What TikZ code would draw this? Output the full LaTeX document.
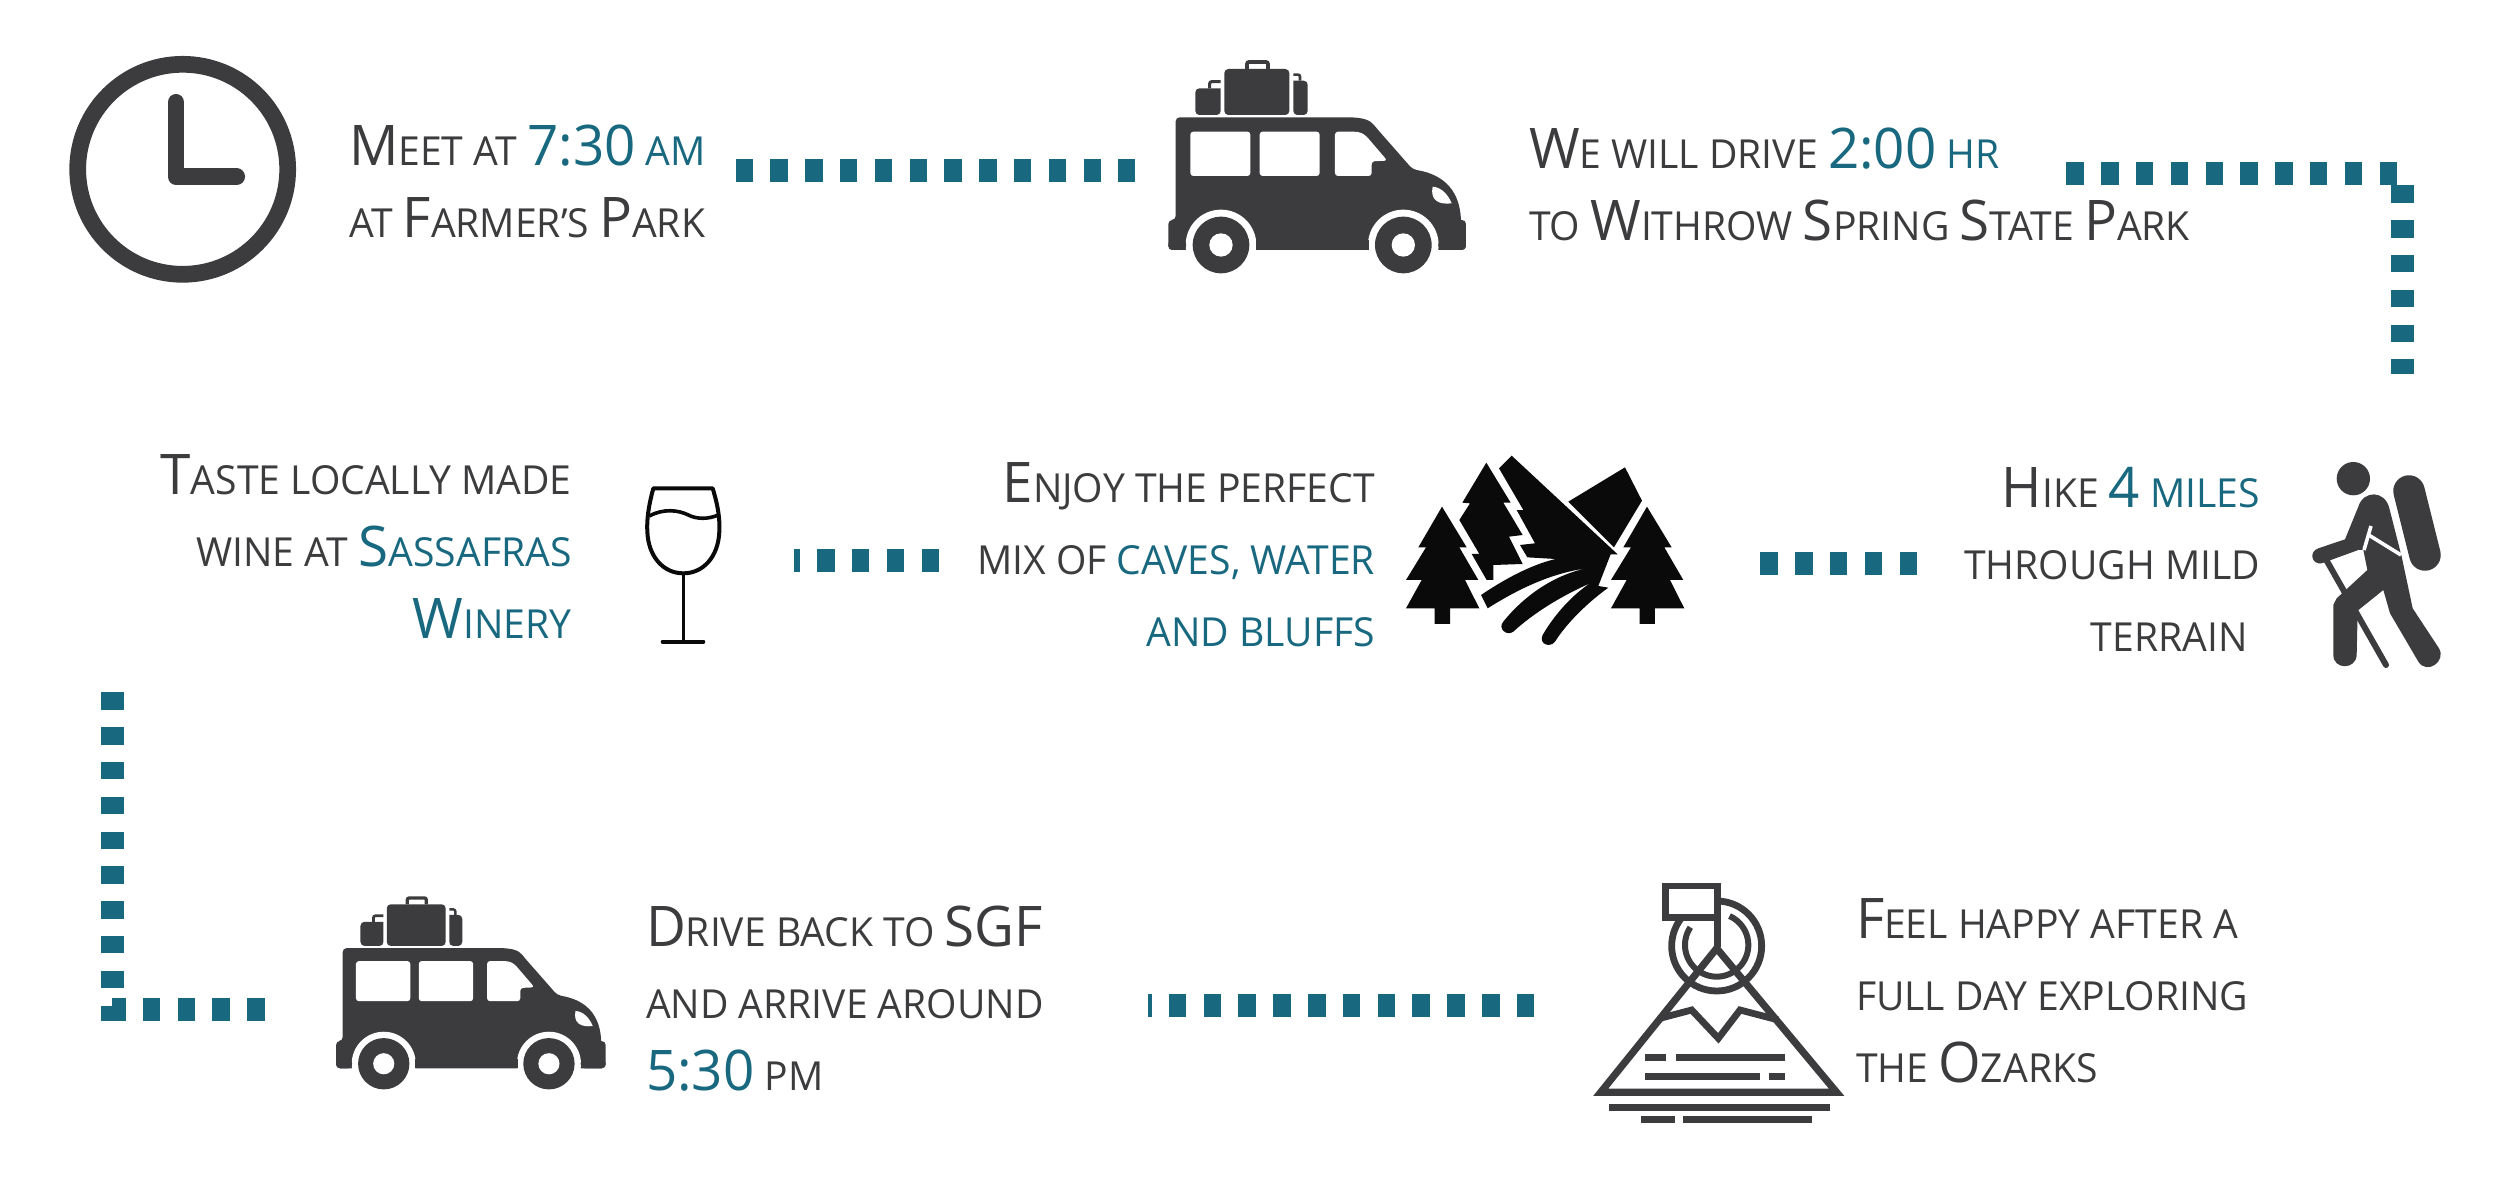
\documentclass[tikz,border=0pt]{standalone}
\usepackage{fontspec}
\setmainfont[FakeStretch=0.977]{Open Sans}
\definecolor{inkx}{HTML}{3C3C3E}
\definecolor{tealx}{HTML}{186880}
\definecolor{blackx}{HTML}{0A0A0A}
\newcommand\bigc[1]{{\fontsize{56}{72}\selectfont #1}}
\newcommand\smc[1]{\MakeUppercase{#1}}
\newcommand\tc[1]{\textcolor{tealx}{#1}}
\tikzset{
  label/.style={inner sep=0pt,outer sep=0pt,text=inkx,font=\fontsize{40}{72}\selectfont},
  lefttext/.style={label,align=left,anchor=base west},
  righttext/.style={label,align=right,anchor=base east},
  hdots/.style={draw=tealx,line width=23pt,dash pattern=on 17.5pt off 17.3pt},
  vdots/.style={hdots},
  ink/.style={fill=inkx,draw=none},
  inkline/.style={draw=inkx,line cap=butt,miter limit=10},
}
% van icon: x, y, scale (drawn in 3x zoom units)
\newcommand\vanicon[3]{%
\begin{scope}[shift={(#1,#2)},scale=#3]
 \fill[inkx,rounded corners=4pt] (137,540) -- (137,232) -- (640,232) .. controls (700,232) and (720,240) .. (740,265) -- (848,388) [sharp corners] .. controls (950,405) and (990,460) .. (993,540) [rounded corners=4pt] -- (1008,540) -- (1008,630) -- (115,630) -- (115,540) -- cycle;
 \fill[white] (273,615) circle[radius=106];
 \fill[white] (820,615) circle[radius=106];
 \fill[white] (115,632) rectangle (1010,705);
 \fill[inkx,rounded corners=4pt] (115,600) -- (115,630) -- (168,630) -- (168,600) -- cycle;
 \fill[inkx] (378,600) rectangle (716,630);
 \fill[inkx,rounded corners=4pt] (925,600) -- (925,630) -- (1008,630) -- (1008,600) -- cycle;
 \foreach \cx in {273,820}{
  \fill[inkx] (\cx,615) circle[radius=85];
  \fill[white] (\cx,615) circle[radius=35];
 }
 \fill[white,rounded corners=3pt] (181,275) rectangle (361,408);
 \fill[white,rounded corners=3pt] (389,275) rectangle (569,408);
 \fill[white,rounded corners=3pt] (615,275) -- (615,408) -- (725,408) -- (725,364) -- (772,362) [sharp corners] -- (712,292) .. controls (700,280) and (690,275) .. (670,275) [rounded corners=3pt] -- cycle;
 \fill[white] (908,440) .. controls (935,442) and (955,465) .. (965,490) .. controls (925,495) and (900,480) .. (908,440) -- cycle;
 \fill[inkx,rounded corners=4pt] (283,87) rectangle (478,225);
 \draw[inkx,line width=#3*11pt,rounded corners=2pt] (351,87) -- (351,66) -- (414,66) -- (414,87);
 \fill[inkx,rounded corners=4pt] (272,145) -- (196,145) -- (196,225) -- (272,225) [sharp corners] -- cycle;
 \draw[inkx,line width=#3*9pt,rounded corners=2pt] (239,145) -- (239,125) -- (272,125);
 \fill[inkx,rounded corners=4pt] (490,122) -- (533,122) -- (533,225) -- (490,225) [sharp corners] -- cycle;
 \draw[inkx,line width=#3*8pt,rounded corners=2pt] (490,104) -- (510,104) -- (510,122);
\end{scope}}
\newcommand\treeicon[1]{%
 \fill[blackx,xshift=#1pt] (156,200) -- (230,322) -- (208,322) -- (265,420) -- (225,420) -- (268,505) -- (180,505) -- (180,552) -- (134,552) -- (134,505) -- (48,505) -- (95,420) -- (48,420) -- (108,322) -- (85,322) -- cycle;}
\begin{document}
\begin{tikzpicture}[x=1pt,y=-1pt]
\useasboundingbox[fill=white] (0,0) rectangle (2500,1189);

% clock
\draw[inkx,line width=16.7pt] (182.7,169.3) circle[radius=105];
\draw[inkx,line width=16.7pt,line cap=round,line join=round] (176,102.3) -- (176,176.7) -- (236.7,176.7);

% vans
\vanicon{1130}{40}{0.3333}
\vanicon{301.3}{878}{0.302}

% wine glass
\begin{scope}[shift={(620,460)},scale=0.3333]
 \draw[blackx,line width=4pt,line join=round] (100,85) -- (278,85) .. controls (295,140) and (300,180) .. (298,215) .. controls (295,290) and (250,340) .. (190,340) .. controls (130,340) and (85,290) .. (82,215) .. controls (80,180) and (85,140) .. (100,85) -- cycle;
 \draw[blackx,line width=3.6pt] (88,168) .. controls (130,145) and (175,150) .. (205,165) .. controls (230,178) and (265,178) .. (295,165);
 \draw[blackx,line width=3pt] (190,340) -- (190,545);
 \draw[blackx,line width=4pt,line cap=round] (128,545) -- (250,545);
\end{scope}

% forest
\begin{scope}[shift={(1390,440)},scale=0.3333]
 \treeicon{0}
 \treeicon{615}
 \fill[blackx] (289,68) -- (362,188) -- (340,188) -- (398,285) -- (357,290) -- (398,372) -- (310,375) -- (310,420) -- (290,420) -- (245,342) -- (268,342) -- (208,240) -- (240,190) -- (217,188) -- cycle;
 \fill[blackx] (535,185) -- (705,82) -- (756,182) -- (672,322) -- cycle;
 \fill[blackx] (327,85) -- (365,47) -- (683,343) -- (662,343) -- (625,438) -- (655,443)
   .. controls (590,490) and (530,550) .. (495,605)
   .. controls (480,625) and (445,612) .. (458,585)
   .. controls (490,530) and (540,470) .. (600,430)
   .. controls (510,470) and (430,520) .. (370,575)
   .. controls (350,590) and (322,565) .. (340,545)
   .. controls (400,470) and (490,405) .. (590,385)
   .. controls (480,400) and (380,450) .. (293,505)
   -- (273,465)
   .. controls (340,420) and (420,375) .. (497,357)
   -- (412,352) -- (390,315) -- (435,310) -- (380,210) -- (400,210) -- cycle;
\end{scope}

% hiker
\begin{scope}[shift={(2290,440)},scale=0.3333]
 \fill[inkx] (190,116) circle[radius=50];
 \draw[inkx,line width=31.5pt,line cap=round] (357,153) -- (405,345);
 \draw[inkx,line width=6pt,line cap=round] (110,362) -- (288,675);
 \fill[inkx] (165,298) -- (205,200) .. controls (220,150) and (285,150) .. (298,205)
   -- (335,350) -- (368,505) -- (447,625)
   .. controls (470,665) and (410,705) .. (385,665)
   -- (300,520) -- (280,450) -- (203,512) -- (200,645)
   .. controls (198,690) and (130,690) .. (130,645)
   -- (130,495) -- (140,475) -- (232,390) -- (220,330) -- (205,330) -- (95,370)
   .. controls (65,375) and (55,335) .. (85,325) -- cycle;
 \draw[white,line width=3.6pt] (243,258) -- (222,330);
 \draw[white,line width=3.6pt] (236,285) -- (333,345);
\end{scope}

% summit icon
\begin{scope}[shift={(1570,860)},scale=0.3333]
 \draw[inkx,line width=6.8pt] (440,258) circle[radius=135];
 \draw[inkx,line width=6pt] plot[domain=146:426,samples=70] ({440+95*cos(\x)},{255-95*sin(\x)});
 \fill[white] (287,78) rectangle (442,172);
 \draw[inkx,line width=6.8pt,miter limit=10] (287,78) rectangle (442,172);
 \draw[inkx,line width=6.8pt] (442,172) -- (442,262);
 \draw[inkx,line width=7.2pt,miter limit=10] (92,697) -- (800,697) -- (440,265) -- cycle;
 \draw[inkx,line width=6.8pt,miter limit=10] (270,475) -- (365,450) -- (445,535) -- (510,450) -- (625,480);
 \fill[inkx] (226,582) rectangle (288,604);
 \fill[inkx] (317,582) rectangle (646,604);
 \fill[inkx] (226,638) rectangle (570,660);
 \fill[inkx] (597,638) rectangle (646,660);
 \fill[inkx] (118,732) rectangle (780,754);
 \fill[inkx] (212,768) rectangle (316,790);
 \fill[inkx] (338,768) rectangle (725,790);
\end{scope}

% connectors
\coordinate (c1a) at (735.5,170);   \coordinate (c1b) at (1135,170);
\coordinate (c2a) at (2066.3,173.2);\coordinate (c2b) at (2396.7,173.2);
\coordinate (c3a) at (2402.3,185.3);\coordinate (c3b) at (2402.3,374.3);
\coordinate (c4a) at (1760.3,563.3);\coordinate (c4b) at (1917.7,563.3);
\coordinate (c5a) at (939,560.3);   \coordinate (c5b) at (794.3,560.3);
\coordinate (c6a) at (112.5,692.3); \coordinate (c6b) at (112.5,1020.7);
\coordinate (c7a) at (264.7,1009);  \coordinate (c7b) at (112.3,1009);
\coordinate (c8a) at (1534.3,1005.8);\coordinate (c8b) at (1147.7,1005.8);
\draw[hdots] (c1a) -- (c1b);
\draw[hdots] (c2a) -- (c2b);
\draw[vdots] (c3a) -- (c3b);
\draw[hdots] (c4a) -- (c4b);
\draw[hdots] (c5a) -- (c5b);
\draw[vdots] (c6a) -- (c6b);
\draw[hdots] (c7a) -- (c7b);
\draw[hdots] (c8a) -- (c8b);

% texts
\node[lefttext] (t1) at (349,237) {\bigc{M}\smc{eet at} \tc{\bigc{7:30} \smc{am}}\\\smc{at} \bigc{F}\smc{armer’s} \bigc{P}\smc{ark}};
\node[lefttext] (t2) at (1529,240) {\bigc{W}\smc{e will drive} \tc{\bigc{2:00} \smc{hr}}\\\smc{to} \bigc{W}\smc{ithrow} \bigc{S}\smc{pring} \bigc{S}\smc{tate} \bigc{P}\smc{ark}};
\node[righttext] (t3) at (571.5,638) {\bigc{T}\smc{aste locally made}\\\smc{wine at} \tc{\bigc{S}\smc{assafras}}\\\tc{\bigc{W}\smc{inery}}};
\node[righttext] (t4) at (1375,646) {\bigc{E}\smc{njoy the perfect}\\\smc{mix of} \tc{\smc{caves,} \smc{water}}\\\tc{\smc{and bluffs}}};
\node[righttext] (t5) at (2260,651.5) {\bigc{H}\smc{ike} \tc{\bigc{4} \smc{miles}}\\\smc{through mild}\\\smc{terrain}\rule{12.5pt}{0pt}};
\node[lefttext] (t6) at (646,1090) {\bigc{D}\smc{rive back to} \bigc{SGF}\\\smc{and arrive around}\\\tc{\bigc{5:30}} \smc{pm}};
\node[lefttext] (t7) at (1856,1082) {\bigc{F}\smc{eel happy after a}\\\smc{full day exploring}\\\smc{the} \bigc{O}\smc{zarks}};
\end{tikzpicture}
\end{document}
